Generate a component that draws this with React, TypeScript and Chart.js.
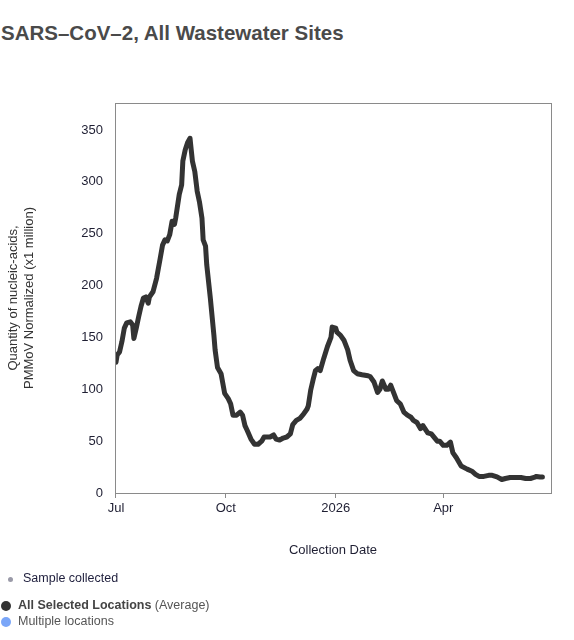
import React, { useEffect, useRef } from "react";
import { Chart, registerables } from "chart.js";

Chart.register(...registerables);

const titleText = "SARS–CoV–2, All Wastewater Sites";
const xAxisTitle = "Collection Date";
const yAxisTitle = ["Quantity of nucleic-acids,", "PMMoV Normalized (x1 million)"];

const tickDates = ["2025-07-01", "2025-10-01", "2026-01-01", "2026-04-01"];
const tickLabels = ["Jul", "Oct", "2026", "Apr"];
const yTicks = [0, 50, 100, 150, 200, 250, 300, 350];

const dates = [
  "2025-07-01", "2025-07-02", "2025-07-04", "2025-07-06", "2025-07-08", "2025-07-10", "2025-07-13", "2025-07-15",
  "2025-07-16", "2025-07-18", "2025-07-20", "2025-07-22", "2025-07-24", "2025-07-26", "2025-07-28", "2025-07-29",
  "2025-08-01", "2025-08-04", "2025-08-07", "2025-08-09", "2025-08-11", "2025-08-13", "2025-08-15", "2025-08-17",
  "2025-08-19", "2025-08-20", "2025-08-23", "2025-08-25", "2025-08-26", "2025-08-28", "2025-08-30", "2025-09-01",
  "2025-09-02", "2025-09-03", "2025-09-05", "2025-09-07", "2025-09-09", "2025-09-11", "2025-09-12", "2025-09-14",
  "2025-09-15", "2025-09-18", "2025-09-21", "2025-09-22", "2025-09-24", "2025-09-27", "2025-09-30", "2025-10-03",
  "2025-10-05", "2025-10-07", "2025-10-10", "2025-10-13", "2025-10-15", "2025-10-17", "2025-10-19", "2025-10-22",
  "2025-10-25", "2025-10-28", "2025-10-31", "2025-11-02", "2025-11-07", "2025-11-10", "2025-11-12", "2025-11-15",
  "2025-11-18", "2025-11-21", "2025-11-24", "2025-11-26", "2025-11-29", "2025-12-02", "2025-12-05", "2025-12-08",
  "2025-12-09", "2025-12-11", "2025-12-13", "2025-12-15", "2025-12-17", "2025-12-19", "2025-12-22", "2025-12-25",
  "2025-12-28", "2025-12-29", "2026-01-01", "2026-01-02", "2026-01-05", "2026-01-08", "2026-01-11", "2026-01-13",
  "2026-01-16", "2026-01-19", "2026-01-23", "2026-01-28", "2026-01-30", "2026-02-02", "2026-02-05", "2026-02-07",
  "2026-02-09", "2026-02-12", "2026-02-14", "2026-02-16", "2026-02-19", "2026-02-21", "2026-02-24", "2026-02-27",
  "2026-03-02", "2026-03-05", "2026-03-07", "2026-03-10", "2026-03-13", "2026-03-15", "2026-03-19", "2026-03-22",
  "2026-03-27", "2026-03-29", "2026-04-01", "2026-04-04", "2026-04-07", "2026-04-09", "2026-04-12", "2026-04-16",
  "2026-04-21", "2026-04-25", "2026-04-28", "2026-05-01", "2026-05-05", "2026-05-09", "2026-05-12", "2026-05-16",
  "2026-05-20", "2026-05-23", "2026-05-27", "2026-06-01", "2026-06-05", "2026-06-09", "2026-06-13", "2026-06-16",
  "2026-06-18", "2026-06-21", "2026-06-23",
];

const averageValues = [
  126, 133, 136, 146, 159, 164, 165, 162,
  149, 159, 170, 180, 188, 189, 183, 189,
  194, 207, 226, 239, 244, 243, 249, 262,
  259, 265, 288, 297, 320, 331, 338, 342,
  331, 320, 310, 291, 280, 265, 244, 238,
  220, 188, 152, 138, 121, 115, 96, 91,
  86, 75, 75, 78, 75, 65, 60, 52,
  47, 47, 50, 54, 54, 56, 52, 51,
  53, 54, 57, 66, 70, 72, 76, 81,
  84, 99, 109, 118, 120, 118, 130, 141,
  150, 160, 159, 155, 152, 147, 138, 128,
  118, 115, 114, 113, 112, 107, 97, 100,
  108, 100, 100, 104, 95, 89, 86, 78,
  75, 73, 70, 68, 62, 65, 58, 57,
  50, 50, 46, 46, 49, 39, 34, 26,
  23, 21, 18, 16, 16, 17, 17, 15.5,
  13, 14, 15, 15, 15, 14, 14, 15,
  16, 15.5, 15.5,
];

const startDate = "2025-07-01";

function dayOf(s: string): number {
  const [y, m, d] = s.split("-").map(Number);
  const [y0, m0, d0] = startDate.split("-").map(Number);
  return (Date.UTC(y, m - 1, d) - Date.UTC(y0, m0 - 1, d0)) / 86400000;
}

const FONT = "Arial, 'Liberation Sans', Helvetica, sans-serif";

const boxPlugin = {
  id: "boxPlugin",
  afterDatasetsDraw(chart: any) {
    const { ctx, chartArea } = chart;
    ctx.save();
    ctx.strokeStyle = "#8a8a8a";
    ctx.lineWidth = 1;
    ctx.strokeRect(
      Math.round(chartArea.left) + 0.5,
      Math.round(chartArea.top) + 0.5,
      Math.round(chartArea.right - chartArea.left),
      Math.round(chartArea.bottom - chartArea.top)
    );
    ctx.restore();
  },
};

export default function App() {
  const canvasRef = useRef<HTMLCanvasElement | null>(null);

  useEffect(() => {
    if (!canvasRef.current) return;
    const tickDays = tickDates.map(dayOf);
    const chart = new Chart(canvasRef.current, {
      type: "line",
      data: {
        datasets: [
          {
            label: "All Selected Locations (Average)",
            data: dates.map((d, i) => ({ x: dayOf(d), y: averageValues[i] })),
            borderColor: "#333333",
            borderWidth: 5,
            pointRadius: 0,
            tension: 0,
            borderJoinStyle: "round",
            borderCapStyle: "round",
            fill: false,
          },
        ],
      },
      options: {
        responsive: false,
        animation: false,
        layout: { padding: { top: 103, right: 23, left: 0, bottom: 0 } },
        plugins: {
          legend: { display: false },
          title: { display: false },
          tooltip: { enabled: false },
        },
        scales: {
          x: {
            type: "linear",
            min: -0.8,
            max: 364.2,
            afterFit: (scale: any) => {
              scale.height = 82;
            },
            afterBuildTicks: (scale: any) => {
              scale.ticks = tickDays.map((v) => ({ value: v }));
            },
            ticks: {
              autoSkip: false,
              maxRotation: 0,
              padding: 3,
              color: "#1f1f33",
              font: { family: FONT, size: 13 },
              callback: (value: any) => {
                const idx = tickDays.indexOf(Number(value));
                return idx >= 0 ? tickLabels[idx] : "";
              },
            },
            grid: {
              drawOnChartArea: false,
              drawTicks: true,
              tickLength: 5,
              color: "#8a8a8a",
            },
            border: { display: false },
            title: {
              display: true,
              text: xAxisTitle,
              color: "#1f1f33",
              font: { family: FONT, size: 13 },
              padding: { top: 0, bottom: 17 },
            },
          },
          y: {
            type: "linear",
            min: 0,
            max: 376,
            afterFit: (scale: any) => {
              scale.width = 115;
            },
            afterBuildTicks: (scale: any) => {
              scale.ticks = yTicks.map((v) => ({ value: v }));
            },
            ticks: {
              padding: 12,
              color: "#1f1f33",
              font: { family: FONT, size: 13 },
            },
            grid: { display: false, drawTicks: false },
            border: { display: false },
            title: {
              display: true,
              text: yAxisTitle,
              color: "#333333",
              font: { family: FONT, size: 13 },
              padding: { top: 6, bottom: 0 },
            },
          },
        },
      } as any,
      plugins: [boxPlugin],
    });
    return () => chart.destroy();
  }, []);

  const textBase: React.CSSProperties = {
    position: "absolute",
    fontFamily: FONT,
    fontSize: 12.5,
    lineHeight: "14px",
    whiteSpace: "nowrap",
  };

  return (
    <div style={{ position: "absolute", left: 0, top: 0, width: 574, height: 640, background: "#fff" }}>
      <div
        style={{
          position: "absolute",
          left: 1,
          top: 23,
          fontFamily: FONT,
          fontSize: 20.5,
          fontWeight: "bold",
          lineHeight: 1,
          color: "#4a4a4a",
          whiteSpace: "nowrap",
        }}
      >
        {titleText}
      </div>
      <canvas ref={canvasRef} width={574} height={575} style={{ position: "absolute", left: 0, top: 0 }} />
      <div style={{ position: "absolute", left: 8, top: 576.5, width: 5, height: 5, borderRadius: "50%", background: "#9a9aa8" }} />
      <div style={{ ...textBase, left: 23, top: 571, color: "#1e1e3c" }}>Sample collected</div>
      <div style={{ position: "absolute", left: 1, top: 600.5, width: 10, height: 10, borderRadius: "50%", background: "#333333" }} />
      <div style={{ ...textBase, left: 18, top: 598, color: "#555555" }}>
        <span style={{ fontWeight: "bold", color: "#444444" }}>All Selected Locations</span> (Average)
      </div>
      <div style={{ position: "absolute", left: 1, top: 616.5, width: 10, height: 10, borderRadius: "50%", background: "#7aa6f8" }} />
      <div style={{ ...textBase, left: 18, top: 614, color: "#555555" }}>Multiple locations</div>
    </div>
  );
}
